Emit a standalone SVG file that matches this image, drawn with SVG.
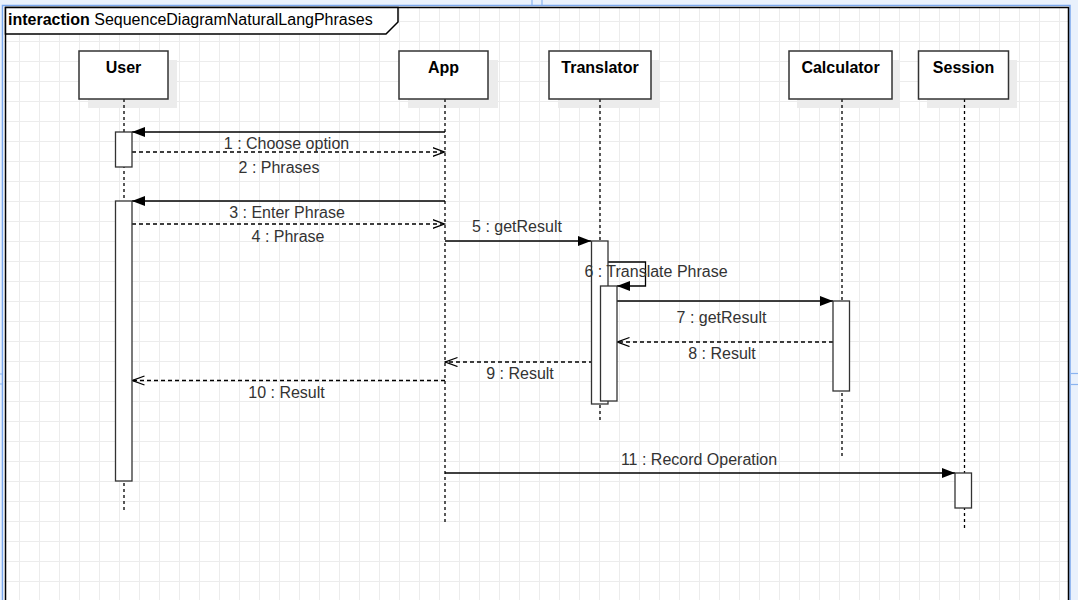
<svg xmlns="http://www.w3.org/2000/svg" width="1078" height="600" viewBox="0 0 1078 600">
  <style>
    .box { fill: #ffffff; stroke: #333333; stroke-width: 1.5; }
    .shadow { fill: #ececec; }
    .name { font-family: "Liberation Sans", Arial, sans-serif; font-size: 16px; font-weight: bold; fill: #000000; text-anchor: middle; }
    .life { stroke: #000000; stroke-width: 1.3; stroke-dasharray: 3 3; fill: none; }
    .act { fill: #ffffff; stroke: #333333; stroke-width: 1.3; }
    .msg { stroke: #000000; stroke-width: 1.3; fill: none; marker-end: url(#filled); }
    .ret { stroke: #000000; stroke-width: 1.3; fill: none; stroke-dasharray: 4 3; marker-end: url(#open); }
    .lbl { font-family: "Liberation Sans", Arial, sans-serif; font-size: 16px; fill: #333333; text-anchor: middle; }
    .pb { stroke: #8ab4f0; stroke-width: 1.2; }
  </style>
  <defs>
    <pattern id="grid" x="19" y="1" width="20" height="20" patternUnits="userSpaceOnUse">
      <path d="M0,0.5 H20 M0.5,0 V20" stroke="#ececec" stroke-width="1" fill="none"/>
    </pattern>
    <marker id="filled" markerUnits="userSpaceOnUse" markerWidth="14" markerHeight="12" refX="13" refY="5" orient="auto">
      <path d="M0,0 L13,5 L0,10 z" fill="#000000"/>
    </marker>
    <marker id="open" markerUnits="userSpaceOnUse" markerWidth="14" markerHeight="12" refX="12.5" refY="5" orient="auto">
      <path d="M0,0.5 L12,5 L0,9.5" fill="none" stroke="#000000" stroke-width="1.3"/>
    </marker>
  </defs>

  <!-- page background -->
  <rect x="0" y="0" width="1078" height="600" fill="#e9f1fc"/>
  <rect x="2.5" y="5.5" width="1067.5" height="600" fill="#ffffff" stroke="#7aa7ec" stroke-width="1.5"/>
  <rect x="3" y="6" width="1066" height="594" fill="url(#grid)"/>
  <line class="pb" x1="532" y1="0" x2="532" y2="5"/>
  <line class="pb" x1="542" y1="0" x2="542" y2="5"/>
  <line class="pb" x1="0" y1="374" x2="2" y2="374"/>
  <line class="pb" x1="0" y1="384" x2="2" y2="384"/>
  <line class="pb" x1="1071" y1="373.5" x2="1078" y2="373.5"/>
  <line class="pb" x1="1071" y1="384.5" x2="1078" y2="384.5"/>

  <!-- interaction frame -->
  <g id="frame">
    <rect x="5.5" y="7.5" width="1063" height="620" fill="none" stroke="#000000" stroke-width="1.5"/>
    <polygon points="5.5,7.5 398,7.5 398,22 386,34 5.5,34" fill="#ffffff" stroke="#000000" stroke-width="1.5"/>
    <text x="8" y="25" font-family="Liberation Sans, Arial, sans-serif" font-size="16" fill="#000000"><tspan font-weight="bold">interaction</tspan> SequenceDiagramNaturalLangPhrases</text>
  </g>

  <!-- lifelines -->
  <g id="user">
    <rect class="shadow" x="88" y="60" width="89" height="48"/>
    <line class="life" x1="124" y1="99" x2="124" y2="510"/>
    <rect class="box" x="79" y="51" width="89" height="48"/>
    <text class="name" x="123.5" y="72.5">User</text>
  </g>
  <g id="app">
    <rect class="shadow" x="408" y="60" width="90" height="48"/>
    <line class="life" x1="445" y1="99" x2="445" y2="525"/>
    <rect class="box" x="399" y="51" width="89" height="48"/>
    <text class="name" x="443.5" y="72.5">App</text>
  </g>
  <g id="translator">
    <rect class="shadow" x="558" y="60" width="102" height="48"/>
    <line class="life" x1="600" y1="99" x2="600" y2="420"/>
    <rect class="box" x="549" y="51" width="102" height="48"/>
    <text class="name" x="600" y="72.5">Translator</text>
  </g>
  <g id="calculator">
    <rect class="shadow" x="797" y="60" width="103" height="48"/>
    <line class="life" x1="842" y1="99" x2="842" y2="458"/>
    <rect class="box" x="789" y="51" width="103" height="48"/>
    <text class="name" x="840.5" y="72.5">Calculator</text>
  </g>
  <g id="session">
    <rect class="shadow" x="927" y="60" width="90" height="48"/>
    <line class="life" x1="964.5" y1="99" x2="964.5" y2="530"/>
    <rect class="box" x="918.5" y="51" width="90" height="48"/>
    <text class="name" x="963.5" y="72.5">Session</text>
  </g>

  <!-- connectors -->
  <g id="connectors">
    <line class="msg" x1="445" y1="132" x2="132" y2="132"/>
    <line class="ret" x1="132" y1="152" x2="445" y2="152"/>
    <line class="msg" x1="445" y1="201" x2="132" y2="201"/>
    <line class="ret" x1="132" y1="224" x2="445" y2="224"/>
    <line class="msg" x1="445" y1="241" x2="591" y2="241"/>
    <path class="msg" d="M608,262 H645.5 V286 H617"/>
    <line class="msg" x1="617" y1="301" x2="833" y2="301"/>
    <line class="ret" x1="833" y1="342" x2="617" y2="342"/>
    <line class="ret" x1="600" y1="362" x2="445" y2="362"/>
    <line class="ret" x1="445" y1="380.5" x2="132" y2="380.5"/>
    <line class="msg" x1="445" y1="473" x2="955" y2="473"/>
  </g>

  <!-- activations -->
  <g id="activations">
    <rect class="act" x="115.5" y="132" width="16.5" height="35"/>
    <rect class="act" x="115.5" y="201" width="16.5" height="280"/>
    <rect class="act" x="591.5" y="241" width="16.5" height="163"/>
    <rect class="act" x="600.5" y="286" width="16.5" height="115"/>
    <rect class="act" x="833" y="301" width="16.5" height="90"/>
    <rect class="act" x="955" y="473" width="16.5" height="35"/>
  </g>

  <!-- message labels -->
  <g id="connector-labels">
    <text class="lbl" x="286.5" y="149">1 : Choose option</text>
    <text class="lbl" x="279" y="172.5">2 : Phrases</text>
    <text class="lbl" x="287" y="217.5">3 : Enter Phrase</text>
    <text class="lbl" x="288" y="241.5">4 : Phrase</text>
    <text class="lbl" x="517" y="232">5 : getResult</text>
    <text class="lbl" x="656" y="276.5">6 : Translate Phrase</text>
    <text class="lbl" x="721.5" y="322.5">7 : getResult</text>
    <text class="lbl" x="722" y="358.5">8 : Result</text>
    <text class="lbl" x="520" y="378.5">9 : Result</text>
    <text class="lbl" x="286.5" y="397.5">10 : Result</text>
    <text class="lbl" x="699" y="465">11 : Record Operation</text>
  </g>
</svg>
